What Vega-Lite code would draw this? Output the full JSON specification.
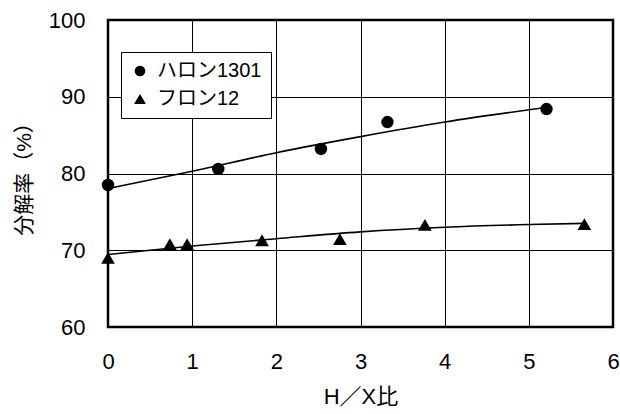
{
  "$schema": "https://vega.github.io/schema/vega-lite/v6.json",
  "width": 505,
  "height": 307,
  "autosize": {"type": "none"},
  "padding": {"left": 108, "top": 20, "right": 7, "bottom": 87},
  "background": "white",
  "config": {
    "font": "Liberation Sans, Noto Sans CJK JP",
    "view": {"stroke": "black", "strokeWidth": 2.5},
    "axis": {
      "domain": false,
      "ticks": false,
      "grid": true,
      "gridColor": "black",
      "gridWidth": 1,
      "gridOpacity": 1,
      "labelColor": "black",
      "titleColor": "black",
      "labelFont": "Liberation Sans, Noto Sans CJK JP",
      "titleFont": "Liberation Sans, Noto Sans CJK JP",
      "titleFontWeight": "normal"
    }
  },
  "datasets": {
    "pts": [
      {"series": "ハロン1301", "x": 0, "y": 78.5},
      {"series": "ハロン1301", "x": 1.31, "y": 80.6},
      {"series": "ハロン1301", "x": 2.53, "y": 83.2},
      {"series": "ハロン1301", "x": 3.32, "y": 86.7},
      {"series": "ハロン1301", "x": 5.21, "y": 88.4},
      {"series": "フロン12", "x": 0, "y": 69.0},
      {"series": "フロン12", "x": 0.735, "y": 70.8},
      {"series": "フロン12", "x": 0.94, "y": 70.8},
      {"series": "フロン12", "x": 1.83, "y": 71.3},
      {"series": "フロン12", "x": 2.755, "y": 71.45},
      {"series": "フロン12", "x": 3.765, "y": 73.3},
      {"series": "フロン12", "x": 5.66, "y": 73.4}
    ],
    "trend": [
      {"series": "ハロン1301", "x": 0, "y": 78.05},
      {"series": "ハロン1301", "x": 1, "y": 80.3},
      {"series": "ハロン1301", "x": 2, "y": 82.7},
      {"series": "ハロン1301", "x": 3, "y": 84.8},
      {"series": "ハロン1301", "x": 4, "y": 86.7},
      {"series": "ハロン1301", "x": 5.2, "y": 88.6},
      {"series": "フロン12", "x": 0, "y": 69.45},
      {"series": "フロン12", "x": 1, "y": 70.55},
      {"series": "フロン12", "x": 2, "y": 71.5},
      {"series": "フロン12", "x": 3, "y": 72.4},
      {"series": "フロン12", "x": 4, "y": 73.0},
      {"series": "フロン12", "x": 5, "y": 73.35},
      {"series": "フロン12", "x": 5.65, "y": 73.5}
    ]
  },
  "layer": [
    {
      "data": {"name": "trend"},
      "mark": {"type": "line", "color": "black", "strokeWidth": 1.6, "interpolate": "monotone"},
      "encoding": {
        "x": {"field": "x", "type": "quantitative"},
        "y": {"field": "y", "type": "quantitative"},
        "detail": {"field": "series"}
      }
    },
    {
      "data": {"name": "pts"},
      "mark": {"type": "point", "filled": true, "color": "black", "opacity": 1},
      "encoding": {
        "x": {
          "field": "x", "type": "quantitative",
          "scale": {"domain": [0, 6], "nice": false, "zero": false},
          "axis": {"values": [0, 1, 2, 3, 4, 5, 6], "format": "d", "title": "H／X比", "labelFontSize": 22, "titleFontSize": 22, "labelPadding": 24, "titlePadding": 14, "labelFlush": false}
        },
        "y": {
          "field": "y", "type": "quantitative",
          "scale": {"domain": [60, 100], "nice": false, "zero": false},
          "axis": {"values": [60, 70, 80, 90, 100], "format": "d", "title": "分解率（%）", "labelFontSize": 22, "titleFontSize": 21, "labelPadding": 23, "titlePadding": 14}
        },
        "shape": {
          "field": "series", "type": "nominal",
          "scale": {"domain": ["ハロン1301", "フロン12"], "range": ["circle", "M-1.1,0.95L1.1,0.95L0,-0.95Z"]},
          "legend": {
            "title": null,
            "orient": "none",
            "legendX": 13,
            "legendY": 32,
            "strokeColor": "black",
            "fillColor": "white",
            "padding": 9,
            "labelFontSize": 20,
            "labelColor": "black",
            "symbolSize": 115,
            "symbolFillColor": "black",
            "symbolStrokeColor": "black",
            "symbolStrokeWidth": 0,
            "rowPadding": 8,
            "labelOffset": 7
          }
        },
        "size": {"value": 155}
      }
    }
  ]
}
